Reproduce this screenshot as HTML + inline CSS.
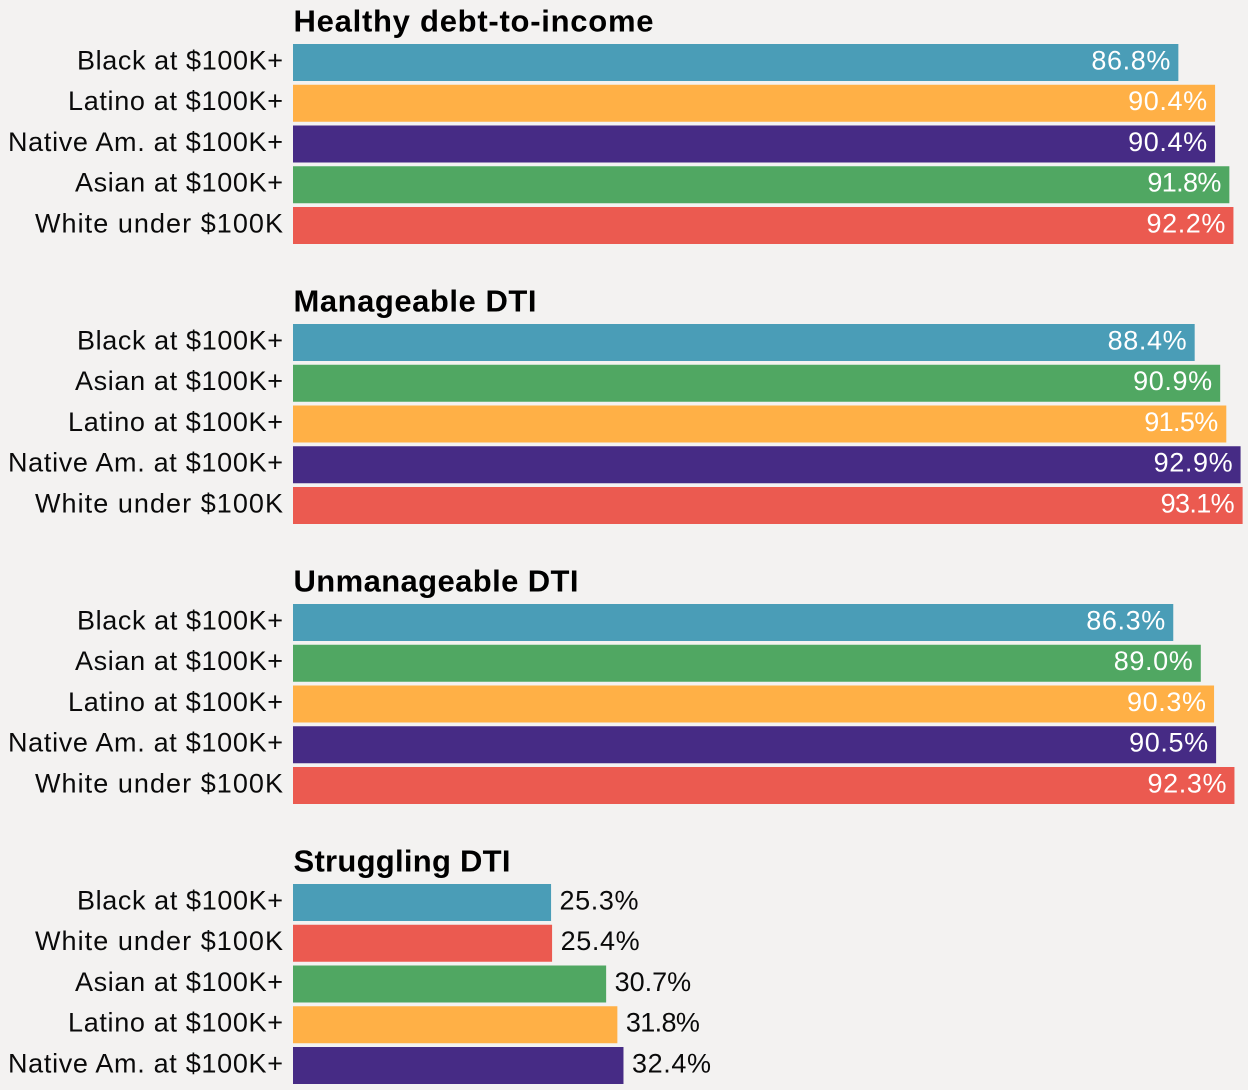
<!DOCTYPE html>
<html lang="en">
<head>
<meta charset="utf-8">
<title>Debt-to-income by group</title>
<style>
html,body{margin:0;padding:0;background:#f3f2f1;}
svg{display:block;}
text{font-family:"Liberation Sans",sans-serif;}
.lbl{font-size:27px;fill:#0a0a0a;text-anchor:end;}
.val{font-size:27px;}
.ttl{font-size:31px;font-weight:700;fill:#000;}
</style>
</head>
<body>
<svg id="chart" xmlns="http://www.w3.org/2000/svg" width="1248" height="1090" viewBox="0 0 1248 1090"></svg>
<script>
const panelTitles = ["Healthy debt-to-income", "Manageable DTI", "Unmanageable DTI", "Struggling DTI"];
const healthyGroups = ["Black at $100K+", "Latino at $100K+", "Native Am. at $100K+", "Asian at $100K+", "White under $100K"];
const healthyValues = [86.8, 90.4, 90.4, 91.8, 92.2];
const manageableGroups = ["Black at $100K+", "Asian at $100K+", "Latino at $100K+", "Native Am. at $100K+", "White under $100K"];
const manageableValues = [88.4, 90.9, 91.5, 92.9, 93.1];
const unmanageableGroups = ["Black at $100K+", "Asian at $100K+", "Latino at $100K+", "Native Am. at $100K+", "White under $100K"];
const unmanageableValues = [86.3, 89.0, 90.3, 90.5, 92.3];
const strugglingGroups = ["Black at $100K+", "White under $100K", "Asian at $100K+", "Latino at $100K+", "Native Am. at $100K+"];
const strugglingValues = [25.3, 25.4, 30.7, 31.8, 32.4];

const groupColors = {
  "Black": "#4a9db7",
  "Latino": "#ffb046",
  "Native": "#462b85",
  "Asian": "#50a762",
  "White": "#eb5a50"
};

/* The reference typeface runs wider than Liberation Sans, so text is stretched to its measured width. */
const labelWidth = {
  "Black": 206,
  "Latino": 215,
  "Native": 275,
  "Asian": 208,
  "White": 248
};
const titleWidth = [360, 243, 285, 217];

const NS = "http://www.w3.org/2000/svg";
const svg = document.getElementById("chart");
const xScale = v => 293 + v * 10.2;
const panelTop = p => 44 + p * 280;
const rowY = (p, i) => panelTop(p) + i * 40.75;
const BAR_H = 37;

function make(tag, attrs, text) {
  const el = document.createElementNS(NS, tag);
  for (const k in attrs) el.setAttribute(k, attrs[k]);
  if (text !== undefined) el.textContent = text;
  return el;
}
function slug(s) {
  return s.toLowerCase().replace(/[^a-z0-9]+/g, "-").replace(/^-|-$/g, "");
}
function valueWidth(str) {
  if (str.includes("1")) return 74;
  if (str.includes("7")) return 76.5;
  return 79;
}

const panels = [
  [healthyGroups, healthyValues],
  [manageableGroups, manageableValues],
  [unmanageableGroups, unmanageableValues],
  [strugglingGroups, strugglingValues]
];

panels.forEach(([groups, values], p) => {
  const g = make("g", {});
  
  

  const title = make("text", {
    class: "ttl", x: 293.5, y: panelTop(p) - 12.5,
    textLength: titleWidth[p], lengthAdjust: "spacing"
  }, panelTitles[p]);
  
  
  g.appendChild(title);

  groups.forEach((name, i) => {
    const y = rowY(p, i);
    const cy = y + BAR_H / 2;
    const key = name.split(" ")[0];

    const label = make("text", {
      class: "lbl", x: 283, y: cy + 6.8,
      textLength: labelWidth[key], lengthAdjust: "spacing"
    }, name);
    
    
    g.appendChild(label);

    const bar = make("rect", {
      x: xScale(0), y: y,
      width: xScale(values[i]) - xScale(0), height: BAR_H,
      fill: groupColors[key]
    });
    
    
    g.appendChild(bar);

    const inside = values[i] > 50;
    const str = values[i].toFixed(1) + "%";
    const val = make("text", {
      class: "val",
      x: inside ? xScale(values[i]) - 8 : xScale(values[i]) + 8.5,
      y: cy + 6.8,
      "text-anchor": inside ? "end" : "start",
      fill: inside ? "#ffffff" : "#0a0a0a",
      textLength: valueWidth(str),
      lengthAdjust: "spacing"
    }, str);
    
    
    g.appendChild(val);
  });
  svg.appendChild(g);
});
</script>
</body>
</html>
